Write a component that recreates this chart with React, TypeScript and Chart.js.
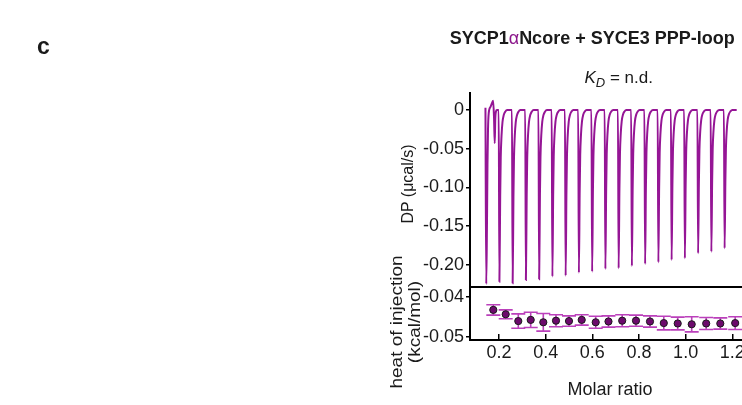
import React, { useEffect, useRef } from "react";
import { Chart, registerables } from "chart.js";

Chart.register(...registerables);

const FONT = "'Liberation Sans', Arial, Helvetica, sans-serif";
const TRACE_COLOR = "#951595";
const ERR_COLOR = "#bb40bb";
const DOT_COLOR = "#6c0a6c";
const INK = "#1a1a1a";

// ---------- Top panel: raw thermogram (time in s, DP in µcal/s) ----------
const timeRange = [0, 3080];
const dpRange = [-0.228, 0.0215];
const dpTicks = [0, -0.05, -0.1, -0.15, -0.2];
const dpTickLabels = ["0", "-0.05", "-0.10", "-0.15", "-0.20"];

// first (small-volume) injection, read point by point
const firstInjTime = [175, 184, 192, 198, 204, 212, 232, 250, 262, 272, 280, 286, 294, 305];
const firstInjDP = [0.003, -0.2245, -0.15, -0.07, -0.025, -0.004, 0.004, 0.009, 0.012, -0.01, -0.043, -0.012, -0.002, 0];

// start times of injections 2..19
const injectionStart = [325, 475, 625, 775, 925, 1075, 1225, 1375, 1525, 1675, 1825, 1975, 2125, 2275, 2425, 2575, 2725, 2875];
// sample times within one injection, seconds after its start
const sampleOffset = [0, 8, 17, 23, 32, 43, 57, 74, 96];
// DP values at those sample times, one row per injection (2..19)
const injectionDP = [
  [0, -0.2215, -0.1108, -0.062, -0.0332, -0.0155, -0.0066, -0.0022, 0],
  [0, -0.2236, -0.1118, -0.0626, -0.0335, -0.0157, -0.0067, -0.0022, 0],
  [0, -0.2194, -0.1097, -0.0614, -0.0329, -0.0154, -0.0066, -0.0022, 0],
  [0, -0.2185, -0.1093, -0.0612, -0.0328, -0.0153, -0.0066, -0.0022, 0],
  [0, -0.215, -0.1075, -0.0602, -0.0323, -0.0151, -0.0065, -0.0022, 0],
  [0, -0.2138, -0.1069, -0.0599, -0.0321, -0.015, -0.0064, -0.0021, 0],
  [0, -0.21, -0.105, -0.0588, -0.0315, -0.0147, -0.0063, -0.0021, 0],
  [0, -0.2086, -0.1043, -0.0584, -0.0313, -0.0146, -0.0063, -0.0021, 0],
  [0, -0.2052, -0.1026, -0.0575, -0.0308, -0.0144, -0.0062, -0.0021, 0],
  [0, -0.2043, -0.1022, -0.0572, -0.0306, -0.0143, -0.0061, -0.002, 0],
  [0, -0.2013, -0.1007, -0.0564, -0.0302, -0.0141, -0.006, -0.002, 0],
  [0, -0.1987, -0.0994, -0.0556, -0.0298, -0.0139, -0.006, -0.002, 0],
  [0, -0.1966, -0.0983, -0.055, -0.0295, -0.0138, -0.0059, -0.002, 0],
  [0, -0.1935, -0.0968, -0.0542, -0.029, -0.0135, -0.0058, -0.0019, 0],
  [0, -0.1914, -0.0957, -0.0536, -0.0287, -0.0134, -0.0057, -0.0019, 0],
  [0, -0.185, -0.0925, -0.0518, -0.0278, -0.013, -0.0056, -0.0019, 0],
  [0, -0.183, -0.0915, -0.0512, -0.0275, -0.0128, -0.0055, -0.0018, 0],
  [0, -0.1785, -0.0893, -0.05, -0.0268, -0.0125, -0.0054, -0.0018, 0],
];
const traceEnd = { time: 3020, dp: 0 };

// ---------- Bottom panel: integrated heats ----------
const ratioRange = [0.0757, 1.2416];
const heatRange = [-0.05083, -0.0375];
const molarRatio = [0.1756, 0.2287, 0.2827, 0.3359, 0.3899, 0.4443, 0.5, 0.5545, 0.6145, 0.6693, 0.7281, 0.7872, 0.8472, 0.9064, 0.966, 1.026, 1.0881, 1.1486, 1.2124];
const heatOfInjection = [-0.0433, -0.0444, -0.0461, -0.0458, -0.0464, -0.046, -0.0461, -0.0458, -0.0464, -0.0462, -0.046, -0.046, -0.0462, -0.0466, -0.0467, -0.0469, -0.0467, -0.0467, -0.0466];
const heatError = [0.0013, 0.0011, 0.0018, 0.0019, 0.0022, 0.0015, 0.0013, 0.0013, 0.0015, 0.0014, 0.0015, 0.0014, 0.0014, 0.0017, 0.0016, 0.0019, 0.0015, 0.0014, 0.0016];
const heatTicks = [-0.04, -0.05];
const heatTickLabels = ["-0.04", "-0.05"];
const ratioTicks = [0.2, 0.4, 0.6, 0.8, 1.0, 1.2];
const ratioTickLabels = ["0.2", "0.4", "0.6", "0.8", "1.0", "1.2"];

const CANVAS_W = 792;
const AXIS_BOX_W = 470;

function buildTrace() {
  const pts: { x: number; y: number }[] = [];
  firstInjTime.forEach((t, i) => pts.push({ x: t, y: firstInjDP[i] }));
  injectionStart.forEach((t0, r) => {
    sampleOffset.forEach((o, j) => pts.push({ x: t0 + o, y: injectionDP[r][j] }));
  });
  pts.push({ x: traceEnd.time, y: traceEnd.dp });
  return pts;
}

const errorBarPlugin = {
  id: "errorBars",
  beforeDatasetsDraw(chart: any) {
    const { ctx } = chart;
    const xs = chart.scales.x;
    const ys = chart.scales.y;
    ctx.save();
    ctx.strokeStyle = ERR_COLOR;
    ctx.lineWidth = 1.6;
    molarRatio.forEach((m, i) => {
      const px = xs.getPixelForValue(m);
      const top = ys.getPixelForValue(heatOfInjection[i] + heatError[i]);
      const bot = ys.getPixelForValue(heatOfInjection[i] - heatError[i]);
      const cap = 7;
      ctx.beginPath();
      ctx.moveTo(px, top);
      ctx.lineTo(px, bot);
      ctx.moveTo(px - cap, top);
      ctx.lineTo(px + cap, top);
      ctx.moveTo(px - cap, bot);
      ctx.lineTo(px + cap, bot);
      ctx.stroke();
    });
    ctx.restore();
  },
};

const tickFont = { family: FONT, size: 18 };

export default function App() {
  const topRef = useRef<HTMLCanvasElement>(null);
  const botRef = useRef<HTMLCanvasElement>(null);

  useEffect(() => {
    const top = new Chart(topRef.current as HTMLCanvasElement, {
      type: "line",
      data: {
        datasets: [
          {
            data: buildTrace(),
            borderColor: TRACE_COLOR,
            borderWidth: 2,
            pointRadius: 0,
            cubicInterpolationMode: "monotone",
            fill: false,
          } as any,
        ],
      },
      options: {
        animation: false,
        responsive: false,
        devicePixelRatio: 1,
        events: [],
        plugins: { legend: { display: false }, tooltip: { enabled: false } },
        layout: { padding: { top: 93.3, right: 50, bottom: 13.3, left: 0 } },
        scales: {
          x: {
            type: "linear",
            min: timeRange[0],
            max: timeRange[1],
            ticks: { display: false },
            grid: { display: false, drawTicks: false },
            border: { display: true, color: "#000", width: 2 },
            afterFit: (s: any) => {
              s.height = 0;
            },
          },
          y: {
            type: "linear",
            min: dpRange[0],
            max: dpRange[1],
            afterBuildTicks: (s: any) => {
              s.ticks = dpTicks.map((v) => ({ value: v }));
            },
            ticks: {
              callback: (_v: any, i: number) => dpTickLabels[i],
              font: tickFont,
              color: INK,
              padding: 2,
            },
            grid: { display: true, drawOnChartArea: false, drawTicks: true, tickLength: 4, color: "#000", lineWidth: 1.5 },
            border: { display: true, color: "#000", width: 2 },
            afterFit: (s: any) => {
              s.width = AXIS_BOX_W;
            },
          },
        },
      } as any,
    });

    const bot = new Chart(botRef.current as HTMLCanvasElement, {
      type: "scatter",
      data: {
        datasets: [
          {
            data: molarRatio.map((x, i) => ({ x, y: heatOfInjection[i] })),
            pointRadius: 3.6,
            backgroundColor: DOT_COLOR,
            borderColor: INK,
            borderWidth: 1,
          },
        ],
      },
      options: {
        animation: false,
        responsive: false,
        devicePixelRatio: 1,
        events: [],
        plugins: { legend: { display: false }, tooltip: { enabled: false } },
        layout: { padding: { top: 16.7, right: 50, bottom: 0, left: 0 } },
        scales: {
          x: {
            type: "linear",
            position: "bottom",
            min: ratioRange[0],
            max: ratioRange[1],
            afterBuildTicks: (s: any) => {
              s.ticks = ratioTicks.map((v) => ({ value: v }));
            },
            ticks: {
              callback: (_v: any, i: number) => ratioTickLabels[i],
              font: tickFont,
              color: INK,
              padding: 8,
              maxRotation: 0,
              autoSkip: false,
            },
            grid: { display: true, drawOnChartArea: false, drawTicks: true, tickLength: -6, color: "#000", lineWidth: 1.5 },
            border: { display: true, color: "#000", width: 2 },
            afterFit: (s: any) => {
              s.height = 65;
            },
          },
          y: {
            type: "linear",
            min: heatRange[0],
            max: heatRange[1],
            afterBuildTicks: (s: any) => {
              s.ticks = heatTicks.map((v) => ({ value: v }));
            },
            ticks: {
              callback: (_v: any, i: number) => heatTickLabels[i],
              font: tickFont,
              color: INK,
              padding: 2,
            },
            grid: { display: true, drawOnChartArea: false, drawTicks: true, tickLength: 4, color: "#000", lineWidth: 1.5 },
            border: { display: true, color: "#000", width: 2 },
            afterFit: (s: any) => {
              s.width = AXIS_BOX_W;
            },
          },
        },
      } as any,
      plugins: [errorBarPlugin],
    });

    return () => {
      top.destroy();
      bot.destroy();
    };
  }, []);

  const abs: React.CSSProperties = { position: "absolute", whiteSpace: "nowrap", color: INK };

  return (
    <div
      style={{
        position: "fixed",
        left: 0,
        top: 0,
        width: 742,
        height: 405,
        overflow: "hidden",
        background: "#fff",
        fontFamily: FONT,
      }}
    >
      <canvas ref={topRef} width={CANVAS_W} height={300} style={{ position: "absolute", left: 0, top: 0, width: CANVAS_W, height: 300 }} />
      <canvas ref={botRef} width={CANVAS_W} height={135} style={{ position: "absolute", left: 0, top: 270, width: CANVAS_W, height: 135 }} />

      <div style={{ ...abs, left: 37, top: 34.5, fontSize: 23, lineHeight: "23px", fontWeight: "bold" }}>c</div>

      <div style={{ ...abs, left: 392.2, top: 28.8, width: 400, textAlign: "center", fontSize: 18, lineHeight: "18px", fontWeight: "bold" }}>
        SYCP1<span style={{ color: "#8b168b", fontWeight: "normal" }}>α</span>Ncore + SYCE3 PPP-loop
      </div>

      <div style={{ ...abs, left: 518.7, top: 68.9, width: 200, textAlign: "center", fontSize: 17, lineHeight: "17px" }}>
        <i>K</i>
        <span style={{ fontSize: 13, fontStyle: "italic", position: "relative", top: 4.4 }}>D</span> = n.d.
      </div>

      <div
        style={{
          ...abs,
          left: 407.7,
          top: 184,
          fontSize: 16,
          lineHeight: "16px",
          transform: "translate(-50%, -50%) rotate(-90deg)",
        }}
      >
        DP (μcal/s)
      </div>

      <div
        style={{
          ...abs,
          left: 405.5,
          top: 322,
          fontSize: 19,
          lineHeight: "20.5px",
          textAlign: "center",
          transform: "translate(-50%, -50%) rotate(-90deg) scale(1, 0.86)",
        }}
      >
        heat of injection
        <br />
        (kcal/mol)
      </div>

      <div style={{ ...abs, left: 510, top: 379.8, width: 200, textAlign: "center", fontSize: 18, lineHeight: "18px" }}>Molar ratio</div>
    </div>
  );
}
